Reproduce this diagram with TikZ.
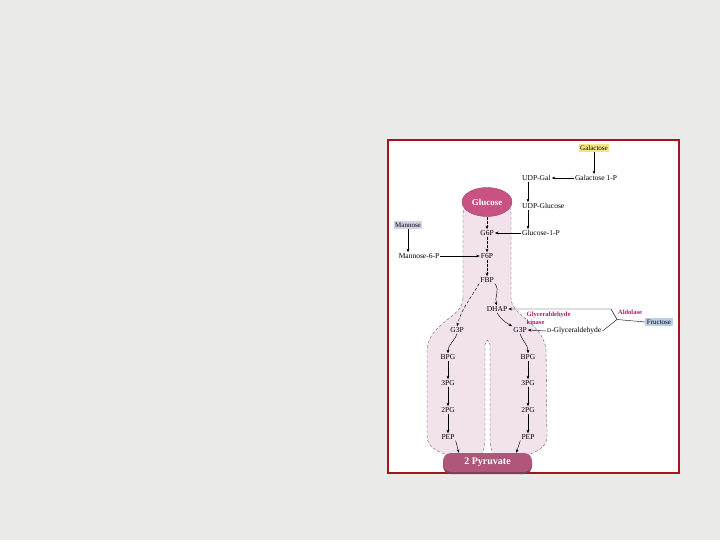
\documentclass[tikz,border=0pt]{standalone}
\usepackage{fontspec}
\setmainfont{Liberation Serif}
\usetikzlibrary{arrows.meta,positioning,shapes.geometric}

\definecolor{slide}{RGB}{234,234,232}
\definecolor{frame}{RGB}{160,22,28}
\definecolor{flask}{RGB}{242,226,236}
\definecolor{glucosepink}{RGB}{200,82,130}
\definecolor{pyruvatemauve}{RGB}{176,86,122}
\definecolor{enzyme}{RGB}{165,30,110}
\definecolor{galyellow}{RGB}{246,228,132}
\definecolor{manlilac}{RGB}{214,210,234}
\definecolor{frublue}{RGB}{186,206,230}

\tikzset{
  met/.style={font=\fontsize{7.5}{8}\selectfont, inner sep=1pt},
  sugar/.style={font=\fontsize{7}{8}\selectfont, inner sep=1.5pt},
  enz/.style={font=\fontsize{6.5}{8}\selectfont\bfseries, text=enzyme, inner sep=0.5pt},
  flow/.style={-{Stealth[length=3.6pt,width=2.8pt]}, line width=0.45pt},
  stem/.style={flow, line width=0.7pt, dash pattern=on 3pt off 1pt},
}

\begin{document}
\begin{tikzpicture}[x=1pt,y=-1pt]
  \useasboundingbox (0,0) rectangle (720,540);
  \fill[slide] (0,0) rectangle (720,540);
  \draw[frame, line width=1.8pt, fill=white] (388,140) rectangle (679,473);

  % flask outline
  \path[draw=black!70, densely dashed, line width=0.3pt, fill=flask]
    (463,298) -- (463,214) .. controls (463,206) and (468,201) .. (476,201)
    -- (498,201) .. controls (506,201) and (511,206) .. (511,214)
    -- (511,298) .. controls (511,316) and (543,322) .. (546,350)
    -- (547,436) .. controls (547,448) and (536,452) .. (525,456)
    -- (495,456) .. controls (491,451) and (490,446) .. (490,438)
    -- (490,345) .. controls (490,339) and (485,339) .. (485,345)
    -- (485,438) .. controls (485,446) and (484,451) .. (480,456)
    -- (450,456) .. controls (439,452) and (427,448) .. (427,436)
    -- (427,350) .. controls (429,322) and (463,318) .. (463,298) -- cycle;

  \node[ellipse, draw=glucosepink!80!black, fill=glucosepink, minimum width=50pt,
        minimum height=29pt, inner sep=0pt, text=white,
        font=\fontsize{9}{10}\selectfont\bfseries] (glc) at (487,202) {Glucose};

  % hexose entry
  \node[sugar, fill=galyellow] (gal) at (594,148) {Galactose};
  \node[met] (gal1p) at (596,178) {Galactose 1-P};
  \node[met, anchor=west] (udpgal) at (521,178) {UDP-Gal};
  \node[met, anchor=west] (udpglc) at (521,206) {UDP-Glucose};
  \node[met, anchor=west] (glc1p) at (521,233) {Glucose-1-P};
  \node[sugar, fill=manlilac] (man) at (408,225) {Mannose};
  \node[met] (man6p) at (419,256) {Mannose-6-P};
  \node[sugar, fill=frublue] (fru) at (659,322) {Fructose};

  % glycolysis
  \node[met] (g6p) at (487,233) {G6P};
  \node[met] (f6p) at (487,256) {F6P};
  \node[met] (fbp) at (487,280) {FBP};
  \node[met] (dhap) at (497,309) {DHAP};
  \node[met] (gapL) at (457,330) {G3P};
  \node[met] (gapR) at (520,330) {G3P};
  \node[met] (bpgL) at (448,357) {BPG};
  \node[met] (pgaL) at (448,383) {3PG};
  \node[met] (pgbL) at (448,410) {2PG};
  \node[met] (pepL) at (448,437) {PEP};
  \node[met] (bpgR) at (528,357) {BPG};
  \node[met] (pgaR) at (528,383) {3PG};
  \node[met] (pgbR) at (528,410) {2PG};
  \node[met] (pepR) at (528,437) {PEP};

  \node[enz, anchor=west, align=left] (gk) at (526,318) {Glyceraldehyde\\kinase};
  \node[enz] (ald) at (630,312) {Aldolase};
  \node[met, anchor=west] (dgla) at (546,331)
        {{\fontsize{5.6}{8}\selectfont D}-Glyceraldehyde};

  \fill[pyruvatemauve!70!black, rounded corners=8pt] (443,455) rectangle (532,474);
  \node[rounded corners=8pt, fill=pyruvatemauve, minimum width=89pt, minimum height=19pt,
        inner sep=0pt, text=white, font=\fontsize{10}{11}\selectfont\bfseries]
        (pyr) at (487.5,462.5) {2 Pyruvate};

  \coordinate (fork) at (617,319.5);
  \coordinate (forkT) at (611,309);

  \draw[flow] (gal) -- (gal |- gal1p.north);
  \draw[flow] (gal1p) -- (udpgal);
  \draw[flow] ([xshift=7pt]udpgal.south west) -- ([xshift=7pt]udpglc.north west);
  \draw[flow] ([xshift=7pt]udpglc.south west) -- ([xshift=7pt]glc1p.north west);
  \draw[flow] (glc1p) -- (g6p);
  \draw[flow] (man) -- (man |- man6p.north);
  \draw[flow] (man6p) -- (f6p);

  \draw[stem] (glc) -- (g6p);
  \draw[stem] (g6p) -- (f6p);
  \draw[stem] (f6p) -- (fbp);
  \draw[flow] (fbp.south east) to[out=-50,in=110] (dhap.north);
  \draw[flow, densely dashed] (fbp.south west) to[out=-120,in=75] (gapL.north);
  \draw[flow] (dhap.south) to[out=-60,in=150] (gapR.north west);
  \draw[flow] (gapL.south) to[out=-110,in=90] (bpgL.north);
  \draw[flow] (gapR.south) to[out=-70,in=90] (bpgR.north);
  \foreach \s in {L,R}{
    \draw[flow] (bpg\s) -- (pga\s);
    \draw[flow] (pga\s) -- (pgb\s);
    \draw[flow] (pgb\s) -- (pep\s);
  }
  \draw[flow] (pepL.south east) -- ([xshift=16pt]pyr.north west);
  \draw[flow] (pepR.south west) -- ([xshift=-16pt]pyr.north east);

  % aldolase fork
  \draw (fru.west) -- (fork);
  \draw[flow] (fork) -- (forkT) -- (dhap.east);
  \draw (fork) -- (dgla.east);
  \draw[flow] (dgla.west) -- (gapR.east);
\end{tikzpicture}
\end{document}
